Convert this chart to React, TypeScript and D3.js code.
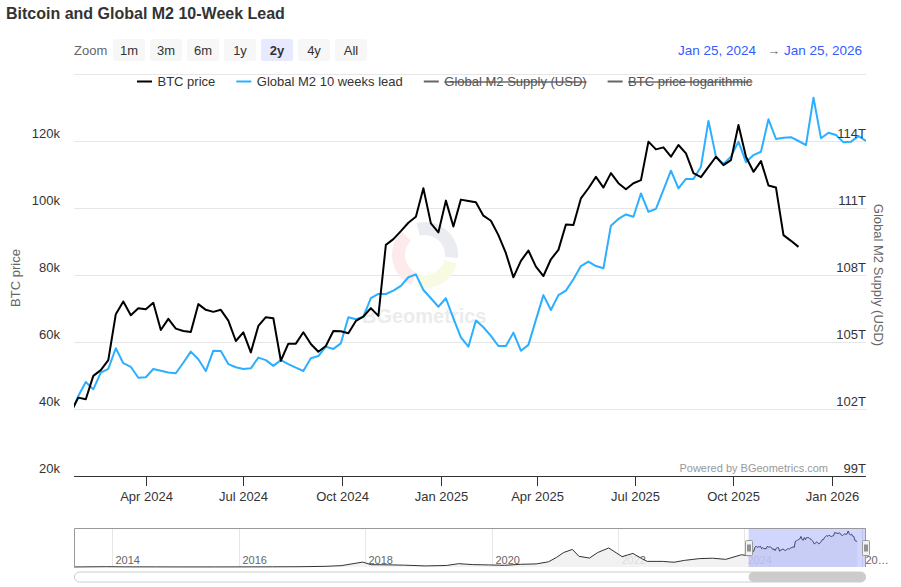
import React, { useRef, useEffect } from 'react';
import * as d3 from 'd3';

// weekly points, Mondays, first one just before the visible range
const firstWeek = new Date(2024, 0, 22);
const rangeStart = new Date(2024, 0, 25);
const rangeEnd = new Date(2026, 0, 25);

// BTC price (USD), weekly
const btcPrice = [
  39000, 43400, 42900, 49900, 51600, 54600, 68300, 72100, 68000, 70100,
  69800, 71700, 63600, 66900, 64000, 63300, 63000, 71300, 69600, 69000,
  69600, 66400, 60300, 62900, 56900, 64800, 67400, 67100, 54400, 59500,
  59500, 62900, 59400, 57100, 58800, 63300, 63200, 62600, 66300, 67600,
  70100, 67800, 89000, 90700, 93100, 95600, 97400, 105900, 95400, 92700,
  102200, 94500, 102500, 102100, 101700, 97700, 96200, 91900, 86500, 79300,
  84200, 87300, 82500, 79700, 84700, 87500, 95100, 94900, 102900, 105900,
  109300, 106100, 110400, 107400, 105600, 107400, 108300, 119800, 117500, 118100,
  115300, 118800, 116300, 110400, 109200, 112300, 115300, 112800, 114300, 124800,
  115300, 110800, 114000, 106700, 106100, 91900, 90200, 88400,
];

// Global M2 shifted 10 weeks ahead (trillions USD), weekly
const m2Lead = [
  101.8, 102.58, 103.21, 102.88, 103.63, 103.8, 104.72, 104.05, 103.89, 103.4,
  103.42, 103.79, 103.71, 103.63, 103.6, 104.07, 104.57, 104.23, 103.7, 104.61,
  104.6, 104.01, 103.87, 103.79, 103.82, 104.3, 104.19, 103.93, 104.19, 104.01,
  103.85, 103.7, 104.27, 104.37, 104.79, 104.69, 104.94, 106.11, 106.02, 106.13,
  106.96, 107.15, 107.15, 107.3, 107.51, 107.9, 108.03, 107.33, 106.96, 106.58,
  106.96, 106.06, 105.21, 104.79, 105.96, 105.66, 105.27, 104.82, 104.82, 105.42,
  104.61, 104.87, 105.99, 107.1, 106.43, 107.1, 107.3, 107.81, 108.4, 108.6,
  108.4, 108.3, 110.21, 110.51, 110.71, 110.61, 111.65, 110.83, 110.96, 111.81,
  112.67, 111.88, 112.3, 112.3, 112.85, 114.9, 113.3, 112.97, 113.3, 113.97,
  113.05, 113.37, 113.52, 114.97, 114.09, 114.15, 114.17, 114.0, 113.82, 115.94,
  114.12, 114.37, 114.27, 113.94, 113.97, 114.22, 114.0,
];

// navigator history before the weekly data (BTC price, USD)
const navHistDates = [
  '2013-05-25', '2013-11-30', '2014-03-15', '2014-09-15', '2015-01-15', '2015-08-15',
  '2016-01-15', '2016-07-15', '2016-12-15', '2017-05-15', '2017-08-15', '2017-12-18',
  '2018-02-05', '2018-05-15', '2018-08-15', '2018-12-15', '2019-04-15', '2019-06-25',
  '2019-09-15', '2019-12-15', '2020-03-15', '2020-06-15', '2020-09-15', '2020-11-25',
  '2021-01-10', '2021-02-20', '2021-04-12', '2021-05-20', '2021-07-20', '2021-09-05',
  '2021-11-08', '2022-01-24', '2022-03-28', '2022-05-15', '2022-06-18', '2022-09-15',
  '2022-11-20', '2023-01-20', '2023-04-15', '2023-06-30', '2023-09-15', '2023-12-15',
];
const navHistValues = [
  110, 1000, 450, 390, 220, 230,
  380, 650, 950, 2300, 4700, 17000,
  8000, 7500, 6400, 3700, 5300, 11500,
  8300, 7200, 5800, 9300, 10700, 18000,
  33000, 50000, 61000, 37000, 31000, 50000,
  66000, 36000, 47000, 30000, 19500, 19400,
  16500, 23000, 29000, 30500, 26500, 42500,
];

const leftTicks = [20000, 40000, 60000, 80000, 100000, 120000];
const rightTicks = [99, 102, 105, 108, 111, 114];
const xTickDates = ['2024-04-01', '2024-07-01', '2024-10-01', '2025-01-01', '2025-04-01', '2025-07-01', '2025-10-01', '2026-01-01'];
const navYears = [2014, 2016, 2018, 2020, 2022, 2024, 2026];
const zoomButtons = ['1m', '3m', '6m', '1y', '2y', '4y', 'All'];
const selectedZoom = '2y';
const legendNames = ['BTC price', 'Global M2 10 weeks lead', 'Global M2 Supply (USD)', 'BTC price logarithmic'];
const hiddenSeries = ['Global M2 Supply (USD)', 'BTC price logarithmic'];

const FONT = '"Liberation Sans", Arial, Helvetica, sans-serif';
const BLUE = '#2caffe';

function BtcM2Chart() {
  const svgRef = useRef(null);

  useEffect(() => {
    const svg = d3.select(svgRef.current);
    svg.selectAll('*').remove();
    svg.attr('font-family', FONT);

    const left = 74, right = 866, top = 88, bottom = 476;
    const parse = d3.timeParse('%Y-%m-%d');
    const weekDate = i => d3.timeDay.offset(firstWeek, 7 * i);

    const btc = btcPrice.map((v, i) => ({ date: weekDate(i), v }));
    const m2 = m2Lead.map((v, i) => ({ date: weekDate(i), v }));

    const x = d3.scaleTime()
      .domain([rangeStart, m2[m2.length - 1].date])
      .range([left, right]);
    const yL = d3.scaleLinear().domain([20000, 120000]).range([bottom, 141]);
    const yR = d3.scaleLinear().domain([99, 114]).range([bottom, 141]);

    // title
    svg.append('text')
      .attr('x', 6).attr('y', 18.5)
      .attr('font-size', 16).attr('font-weight', 'bold').attr('fill', '#333')
      .text('Bitcoin and Global M2 10-Week Lead');

    // range selector
    svg.append('text')
      .attr('x', 74).attr('y', 55).attr('font-size', 13).attr('fill', '#666')
      .text('Zoom');
    zoomButtons.forEach((b, i) => {
      const g = svg.append('g').attr('transform', `translate(${113 + i * 37},39)`);
      g.append('rect').attr('width', 32).attr('height', 22).attr('rx', 2)
        .attr('fill', b === selectedZoom ? '#e6e9ff' : '#f7f7f7');
      g.append('text')
        .attr('x', 16).attr('y', 16).attr('text-anchor', 'middle')
        .attr('font-size', 13).attr('fill', '#333')
        .attr('font-weight', b === selectedZoom ? 'bold' : 'normal')
        .text(b);
    });

    const fmtRange = d3.timeFormat('%b %-d, %Y');
    svg.append('text').attr('x', 862).attr('y', 55).attr('text-anchor', 'end')
      .attr('font-size', 13.5).attr('fill', '#335cff').text(fmtRange(rangeEnd));
    svg.append('text').attr('x', 773.5).attr('y', 55).attr('text-anchor', 'middle')
      .attr('font-size', 13).attr('fill', '#666').text('→');
    svg.append('text').attr('x', 756).attr('y', 55).attr('text-anchor', 'end')
      .attr('font-size', 13.5).attr('fill', '#335cff').text(fmtRange(rangeStart));

    svg.append('line')
      .attr('x1', left).attr('x2', right).attr('y1', 74.5).attr('y2', 74.5)
      .attr('stroke', '#e6e6e6');

    // legend
    let lx = 137;
    legendNames.forEach((name, i) => {
      const hidden = hiddenSeries.includes(name);
      const color = hidden ? '#666' : (i === 0 ? '#000' : BLUE);
      svg.append('line')
        .attr('x1', lx).attr('x2', lx + 15).attr('y1', 81.5).attr('y2', 81.5)
        .attr('stroke', color).attr('stroke-width', 2);
      const t = svg.append('text')
        .attr('x', lx + 20.5).attr('y', 86)
        .attr('font-size', 13).attr('fill', hidden ? '#555' : '#333')
        .attr('text-decoration', hidden ? 'line-through' : null)
        .text(name);
      lx += 20.5 + t.node().getComputedTextLength() + 21;
    });

    // grid
    svg.append('g').selectAll('line')
      .data(leftTicks.slice(1))
      .join('line')
      .attr('x1', left).attr('x2', right)
      .attr('y1', d => Math.round(yL(d)) + 0.5).attr('y2', d => Math.round(yL(d)) + 0.5)
      .attr('stroke', '#e6e6e6');

    // watermark
    const wm = svg.append('g').attr('transform', 'translate(425,255)');
    const arc = d3.arc().innerRadius(20).outerRadius(33);
    const deg = Math.PI / 180;
    wm.append('path').attr('d', arc({ startAngle: -15 * deg, endAngle: 95 * deg })).attr('fill', '#ebebf2');
    wm.append('path').attr('d', arc({ startAngle: 105 * deg, endAngle: 195 * deg })).attr('fill', '#f8fae2');
    wm.append('path').attr('d', arc({ startAngle: 205 * deg, endAngle: 315 * deg })).attr('fill', '#fdeaea');
    svg.append('text')
      .attr('x', 362).attr('y', 323)
      .attr('font-size', 20).attr('font-weight', 'bold').attr('fill', '#ececec')
      .text('BGeometrics');

    // series
    svg.append('clipPath').attr('id', 'plot-clip')
      .append('rect').attr('x', left).attr('y', top).attr('width', right - left).attr('height', bottom - top);
    const plot = svg.append('g').attr('clip-path', 'url(#plot-clip)');

    const m2Line = d3.line().x(d => x(d.date)).y(d => yR(d.v));
    const btcLine = d3.line().x(d => x(d.date)).y(d => yL(d.v));

    plot.append('path').datum(m2)
      .attr('fill', 'none').attr('stroke', BLUE).attr('stroke-width', 2)
      .attr('stroke-linejoin', 'round').attr('d', m2Line);
    plot.append('path').datum(btc)
      .attr('fill', 'none').attr('stroke', '#000').attr('stroke-width', 2)
      .attr('stroke-linejoin', 'round').attr('d', btcLine);

    // x axis
    const fmtTick = d3.timeFormat('%b %Y');
    svg.append('line')
      .attr('x1', left).attr('x2', right).attr('y1', bottom + 0.5).attr('y2', bottom + 0.5)
      .attr('stroke', '#333');
    const xt = svg.append('g').selectAll('g')
      .data(xTickDates.map(parse))
      .join('g')
      .attr('transform', d => `translate(${Math.round(x(d)) + 0.5},0)`);
    xt.append('line').attr('y1', bottom).attr('y2', bottom + 10).attr('stroke', '#333');
    xt.append('text')
      .attr('y', 501).attr('text-anchor', 'middle')
      .attr('font-size', 13).attr('fill', '#333')
      .text(fmtTick);

    // y axes
    svg.append('g').selectAll('text')
      .data(leftTicks)
      .join('text')
      .attr('x', 60).attr('y', d => yL(d) - 3)
      .attr('text-anchor', 'end').attr('font-size', 13).attr('fill', '#333')
      .text(d => `${d / 1000}k`);
    svg.append('g').selectAll('text')
      .data(rightTicks)
      .join('text')
      .attr('x', 866).attr('y', d => yR(d) - 3)
      .attr('text-anchor', 'end').attr('font-size', 13).attr('fill', '#333')
      .text(d => `${d}T`);

    svg.append('text')
      .attr('transform', 'translate(19.5,278) rotate(-90)')
      .attr('text-anchor', 'middle').attr('font-size', 13).attr('fill', '#666')
      .text('BTC price');
    svg.append('text')
      .attr('transform', 'translate(874,275) rotate(90)')
      .attr('text-anchor', 'middle').attr('font-size', 13).attr('fill', '#666')
      .text('Global M2 Supply (USD)');

    svg.append('text')
      .attr('x', 828).attr('y', 472).attr('text-anchor', 'end')
      .attr('font-size', 11).attr('fill', '#999')
      .text('Powered by BGeometrics.com');

    // navigator
    const nTop = 528, nBottom = 567;
    const navData = navHistDates.map((d, i) => ({ date: parse(d), v: navHistValues[i] })).concat(btc);
    const nx = d3.scaleTime()
      .domain([parse(navHistDates[0]), rangeStart, rangeEnd])
      .range([left, 748.6, right]);
    const ny = d3.scaleLinear()
      .domain([0, d3.max(navData, d => d.v)])
      .range([nBottom, 531]);

    const ng = svg.append('g');
    navYears.forEach(yr => {
      const gx = Math.round(nx(new Date(yr, 0, 1))) + 0.5;
      ng.append('line').attr('x1', gx).attr('x2', gx).attr('y1', nTop).attr('y2', nBottom)
        .attr('stroke', '#e6e6e6');
      // labels that run past the navigator's right edge are cut with an ellipsis
      const label = gx + 27 > right ? `${String(yr).slice(0, 2)}…` : String(yr);
      ng.append('text').attr('x', gx + 3).attr('y', 564)
        .attr('font-size', 11).attr('fill', '#666').text(label);
    });

    ng.append('path').datum(navData)
      .attr('fill', '#f0f0f0').attr('fill-opacity', 0.85)
      .attr('d', d3.area().x(d => nx(d.date)).y0(nBottom).y1(d => ny(d.v)));
    ng.append('path').datum(navData)
      .attr('fill', 'none').attr('stroke', '#333').attr('stroke-width', 1)
      .attr('d', d3.line().x(d => nx(d.date)).y(d => ny(d.v)));

    const z0 = nx(rangeStart), z1 = nx(rangeEnd);
    ng.append('rect')
      .attr('x', z0).attr('y', nTop).attr('width', z1 - z0).attr('height', nBottom - nTop)
      .attr('fill', 'rgba(102,119,255,0.3)');
    ng.append('path')
      .attr('d', `M${left + 0.5},${nBottom} L${left + 0.5},${nTop + 0.5} L${right - 0.5},${nTop + 0.5} L${right - 0.5},${nBottom}`)
      .attr('fill', 'none').attr('stroke', '#999');

    [z0, z1].forEach(hx => {
      const h = ng.append('g').attr('transform', `translate(${Math.round(hx) - 3.5},540.5)`);
      h.append('rect').attr('width', 7).attr('height', 15).attr('rx', 1)
        .attr('fill', '#f2f2f2').attr('stroke', '#999');
      h.append('line').attr('x1', 2.5).attr('x2', 2.5).attr('y1', 4).attr('y2', 11).attr('stroke', '#333');
      h.append('line').attr('x1', 4.5).attr('x2', 4.5).attr('y1', 4).attr('y2', 11).attr('stroke', '#333');
    });

    // scrollbar
    ng.append('rect')
      .attr('x', left + 0.5).attr('y', 572).attr('width', right - left - 1).attr('height', 10).attr('rx', 5)
      .attr('fill', '#fff').attr('stroke', '#ccc');
    ng.append('rect')
      .attr('x', z0).attr('y', 572).attr('width', z1 - z0).attr('height', 10).attr('rx', 5)
      .attr('fill', '#cccccc');
  }, []);

  return (
    <svg
      ref={svgRef}
      width={901}
      height={587}
      style={{ position: 'absolute', left: 0, top: 0, display: 'block', background: '#fff' }}
    />
  );
}

export default function App() {
  return <BtcM2Chart />;
}
